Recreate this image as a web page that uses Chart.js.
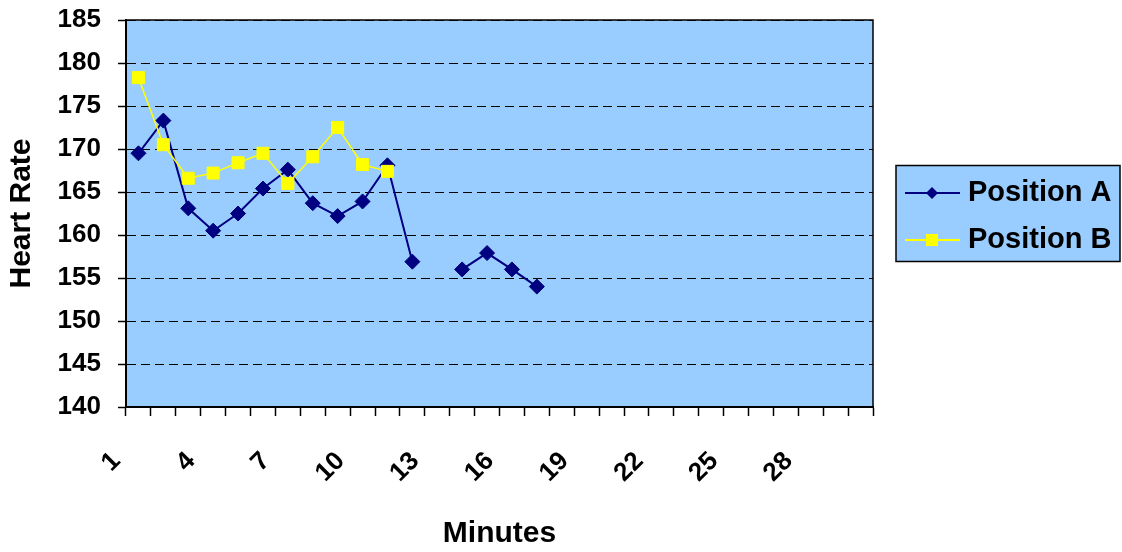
<!DOCTYPE html>
<html lang="en">
<head>
<meta charset="UTF-8" />
<title>Heart Rate</title>
<script src="https://cdn.jsdelivr.net/npm/chart.js@4.4.1/dist/chart.umd.min.js"></script>
<style>
  body { margin: 0; background: #fff; }
  #wrap { width: 1122px; height: 552px; }
</style>
</head>
<body>
<div id="wrap"><canvas id="hrChart" width="1122" height="552"></canvas></div>
<script>
// data
const minutes = ['1','2','3','4','5','6','7','8','9','10','11','12','13','14','15',
                 '16','17','18','19','20','21','22','23','24','25','26','27','28','29','30'];
const positionA = [169.5, 173.3, 163.1, 160.5, 162.5, 165.4, 167.6, 163.7, 162.2, 163.9,
                   168.1, 156.9, null, 156.0, 157.9, 156.0, 154.0];
const positionB = [178.3, 170.5, 166.6, 167.2, 168.4, 169.5, 166.0, 169.1, 172.5, 168.2, 167.4];

const FONT = "'Liberation Sans', Arial, sans-serif";
const BG = '#99CCFF';

// light blue plot area + thin frame on top/right
const plotFrame = {
  id: 'plotFrame',
  beforeDraw(chart) {
    const { ctx, chartArea: a } = chart;
    ctx.save();
    ctx.fillStyle = BG;
    ctx.fillRect(a.left, a.top, a.width, a.height);
    ctx.restore();
  },
  beforeDatasetsDraw(chart) {
    const { ctx, chartArea: a } = chart;
    ctx.save();
    ctx.strokeStyle = '#000';
    ctx.lineWidth = 1.5;
    ctx.beginPath();
    ctx.moveTo(a.left, a.top);
    ctx.lineTo(a.right, a.top);
    ctx.lineTo(a.right, a.bottom);
    ctx.stroke();
    ctx.restore();
  }
};

// boxed legend to the right of the plot
const boxLegend = {
  id: 'boxLegend',
  afterDraw(chart) {
    const { ctx, chartArea: a } = chart;
    const x = a.right + 23, w = 224, h = 96;
    const y = (a.top + a.bottom) / 2 - h / 2;
    ctx.save();
    ctx.fillStyle = BG;
    ctx.fillRect(x, y, w, h);
    ctx.strokeStyle = '#000';
    ctx.lineWidth = 1.5;
    ctx.strokeRect(x, y, w, h);
    ctx.font = 'bold 29px ' + FONT;
    ctx.textBaseline = 'middle';
    const rows = [y + 27.5, y + 74.5];
    // draw in original series order: A then B
    ['Position A', 'Position B'].forEach((name, i) => {
      const ds = chart.data.datasets.find(d => d.label === name);
      const ry = rows[i];
      ctx.strokeStyle = ds.borderColor;
      ctx.lineWidth = 2;
      ctx.beginPath();
      ctx.moveTo(x + 9, ry);
      ctx.lineTo(x + 64, ry);
      ctx.stroke();
      ctx.fillStyle = ds.backgroundColor;
      const cx = x + 36;
      if (ds.pointStyle === 'rectRot') {
        ctx.beginPath();
        ctx.moveTo(cx - 6, ry);
        ctx.lineTo(cx, ry - 6);
        ctx.lineTo(cx + 6, ry);
        ctx.lineTo(cx, ry + 6);
        ctx.closePath();
        ctx.fill();
      } else {
        ctx.fillRect(cx - 6, ry - 6, 12, 12);
      }
      ctx.fillStyle = '#000';
      ctx.fillText(name, x + 72, ry);
    });
    ctx.restore();
  }
};

const ctx = document.getElementById('hrChart').getContext('2d');
const chart = new Chart(ctx, {
  type: 'line',
  data: {
    labels: minutes,
    datasets: [
      {
        label: 'Position A',
        data: positionA,
        borderColor: '#000080',
        backgroundColor: '#000080',
        borderWidth: 2,
        pointStyle: 'rectRot',
        pointRadius: 7.5,
        pointBorderWidth: 1,
        tension: 0,
        order: 1
      },
      {
        label: 'Position B',
        data: positionB,
        borderColor: '#FFFF00',
        backgroundColor: '#FFFF00',
        borderWidth: 1.5,
        pointStyle: 'rect',
        pointRadius: 8.5,
        pointBorderWidth: 1,
        tension: 0,
        order: 0
      }
    ]
  },
  options: {
    responsive: false,
    animation: false,
    layout: { padding: { left: 0, right: 249, top: 20, bottom: 0 } },
    plugins: {
      legend: { display: false },
      tooltip: { enabled: false }
    },
    scales: {
      x: {
        offset: true,
        grid: {
          offset: true,
          drawOnChartArea: false,
          drawTicks: true,
          tickLength: 9,
          tickColor: '#000',
          tickWidth: 1.5
        },
        border: { color: '#000', width: 2 },
        ticks: {
          autoSkip: false,
          minRotation: 45,
          maxRotation: 45,
          labelOffset: -22,
          padding: 30,
          color: '#000',
          font: { family: FONT, size: 26, weight: 'bold' },
          callback: (v, i) => (i % 3 === 0 ? minutes[i] : '')
        },
        title: {
          display: true,
          text: 'Minutes',
          color: '#000',
          font: { family: FONT, size: 30, weight: 'bold' },
          padding: { top: 0, bottom: 0 }
        },
        afterFit: s => {
          s.height = 145;
          s.paddingLeft = 0;
          s.paddingRight = 0;
        }
      },
      y: {
        min: 140,
        max: 185,
        grid: {
          color: '#000',
          lineWidth: 1,
          tickLength: 8,
          tickColor: '#000',
          tickWidth: 1.5,
          tickBorderDash: []
        },
        border: { color: '#000', width: 2, dash: [9, 5] },
        ticks: {
          stepSize: 5,
          autoSkip: false,
          padding: 17,
          color: '#000',
          font: { family: FONT, size: 26, weight: 'bold' }
        },
        title: {
          display: true,
          text: 'Heart Rate',
          color: '#000',
          font: { family: FONT, size: 30, weight: 'bold' },
          padding: { top: 4, bottom: 0 }
        },
        afterFit: s => {
          s.width = 126;
          s.paddingTop = 0;
          s.paddingBottom = 0;
        }
      }
    }
  },
  plugins: [plotFrame, boxLegend]
});
</script>
</body>
</html>
